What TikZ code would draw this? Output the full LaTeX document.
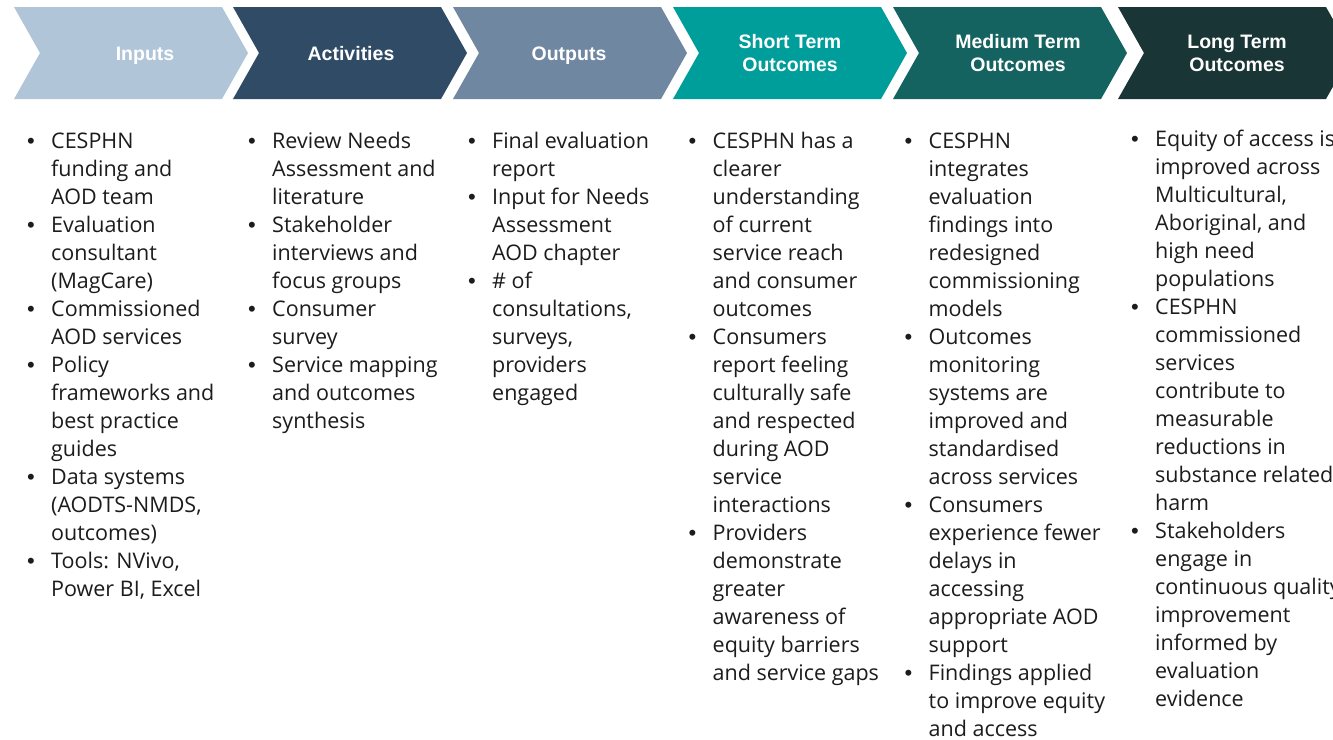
\documentclass[tikz,border=0pt]{standalone}
\usepackage{fontspec}
\setmainfont{Open Sans}
\newfontfamily\headfont{Liberation Sans}
\definecolor{cInputs}{HTML}{B1C5D9}
\definecolor{cActiv}{HTML}{304B66}
\definecolor{cOutp}{HTML}{6F87A0}
\definecolor{cShort}{HTML}{009E9B}
\definecolor{cMed}{HTML}{156361}
\definecolor{cLong}{HTML}{1A3535}
\definecolor{cText}{HTML}{1C1C1C}
\newcommand{\chevron}[2]{%
  \fill[#2] (#1,7) -- ++(208,0) -- ++(26,46) -- ++(-26,46) -- ++(-208,0) -- ++(26,-46) -- cycle;}
\newcommand{\bu}{{\headfont\fontsize{22}{28}\selectfont •}}
\tikzset{
  head/.style={text=white, font=\headfont\bfseries\fontsize{19.5}{23}\selectfont, align=center, inner sep=0pt},
  col/.style={anchor=north west, inner sep=0pt, text=cText, font=\fontsize{21.5}{28}\selectfont},
}
\newenvironment{blist}{\renewcommand{\arraystretch}{1}\begin{tabular}{@{}p{24pt}@{}l@{}}}{\end{tabular}}
\begin{document}
\begin{tikzpicture}[x=1pt,y=-1pt]
\useasboundingbox (0,0) rectangle (1333,739);
\clip (0,0) rectangle (1333,739);
\fill[white] (0,0) rectangle (1333,739);
\chevron{14}{cInputs}
\chevron{233}{cActiv}
\chevron{453}{cOutp}
\chevron{673}{cShort}
\chevron{893}{cMed}
\chevron{1118}{cLong}
\node[head, anchor=base] (hIn) at (145,60) {Inputs};
\node[head, anchor=base] (hAct) at (351,60) {Activities};
\node[head, anchor=base] (hOut) at (569,60) {Outputs};
\node[head] (hShort) at (790,53.5) {Short Term\\Outcomes};
\node[head] (hMed) at (1018,53.5) {Medium Term\\Outcomes};
\node[head] (hLong) at (1237,53.5) {Long Term\\Outcomes};

\node[col] (c1) at (27,128.4) {\begin{blist}
\bu & CESPHN\\ & funding and\\ & AOD team\\
\bu & Evaluation\\ & consultant\\ & (MagCare)\\
\bu & Commissioned\\ & AOD services\\
\bu & Policy\\ & frameworks and\\ & best practice\\ & guides\\
\bu & Data systems\\ & (AODTS-NMDS,\\ & outcomes)\\
\bu & Tools: NVivo,\\ & Power BI, Excel
\end{blist}};
\node[col] (c2) at (248,128.4) {\begin{blist}
\bu & Review Needs\\ & Assessment and\\ & literature\\
\bu & Stakeholder\\ & interviews and\\ & focus groups\\
\bu & Consumer\\ & survey\\
\bu & Service mapping\\ & and outcomes\\ & synthesis
\end{blist}};
\node[col] (c3) at (468,128.4) {\begin{blist}
\bu & Final evaluation\\ & report\\
\bu & Input for Needs\\ & Assessment\\ & AOD chapter\\
\bu & \# of\\ & consultations,\\ & surveys,\\ & providers\\ & engaged
\end{blist}};
\node[col] (c4) at (688.5,128.4) {\begin{blist}
\bu & CESPHN has a\\ & clearer\\ & understanding\\ & of current\\ & service reach\\ & and consumer\\ & outcomes\\
\bu & Consumers\\ & report feeling\\ & culturally safe\\ & and respected\\ & during AOD\\ & service\\ & interactions\\
\bu & Providers\\ & demonstrate\\ & greater\\ & awareness of\\ & equity barriers\\ & and service gaps
\end{blist}};
\node[col] (c5) at (904.5,128.4) {\begin{blist}
\bu & CESPHN\\ & integrates\\ & evaluation\\ & findings into\\ & redesigned\\ & commissioning\\ & models\\
\bu & Outcomes\\ & monitoring\\ & systems are\\ & improved and\\ & standardised\\ & across services\\
\bu & Consumers\\ & experience fewer\\ & delays in\\ & accessing\\ & appropriate AOD\\ & support\\
\bu & Findings applied\\ & to improve equity\\ & and access
\end{blist}};
\node[col] (c6) at (1131,126.4) {\begin{blist}
\bu & Equity of access is\\ & improved across\\ & Multicultural,\\ & Aboriginal, and\\ & high need\\ & populations\\
\bu & CESPHN\\ & commissioned\\ & services\\ & contribute to\\ & measurable\\ & reductions in\\ & substance related\\ & harm\\
\bu & Stakeholders\\ & engage in\\ & continuous quality\\ & improvement\\ & informed by\\ & evaluation\\ & evidence
\end{blist}};
\end{tikzpicture}
\end{document}
